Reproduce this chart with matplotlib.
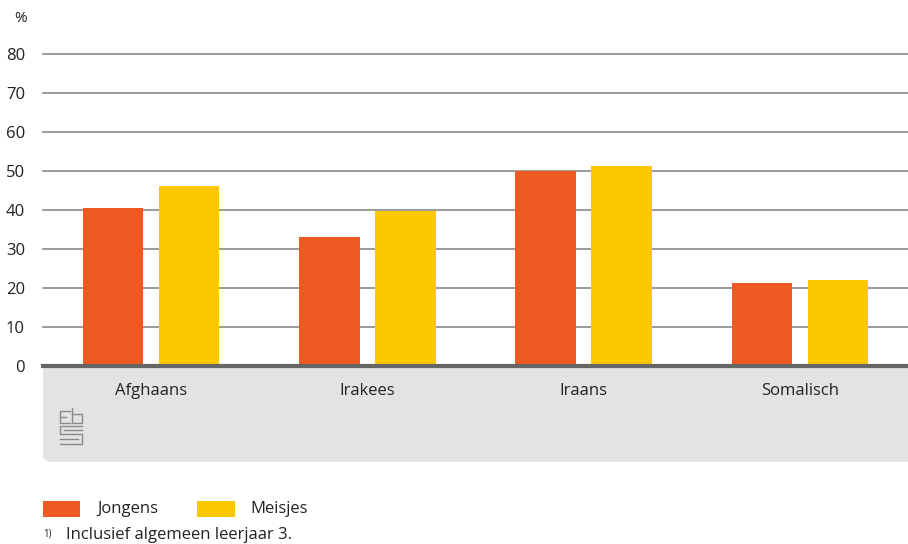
import matplotlib.pyplot as plt
import numpy as np
from matplotlib.patches import Rectangle, FancyBboxPatch

plt.rcParams['font.family'] = ['Open Sans', 'DejaVu Sans']

categories = ["Afghaans", "Irakees", "Iraans", "Somalisch"]
jongens = [40.5, 33.1, 50.0, 21.3]
meisjes = [46.2, 39.7, 51.3, 22.1]
yticks = [0, 10, 20, 30, 40, 50, 60, 70, 80]

ORANGE = "#F05A22"
YELLOW = "#FDC800"
GRID = "#808080"
TEXT = "#222222"
PANEL = "#E2E3E5"

W, H = 908, 544
fig = plt.figure(figsize=(W / 100, H / 100), dpi=100)

# axes: x 43..908 px, y (from top) 54..366 px
ax = fig.add_axes([43 / W, (H - 366) / H, (W - 43) / W, (366 - 54) / H])
x = np.arange(len(categories))
bw = 0.28
off = 0.176
ax.bar(x - off, jongens, bw, color=ORANGE, zorder=3, label="Jongens")
ax.bar(x + off, meisjes, bw, color=YELLOW, zorder=3, label="Meisjes")
ax.set_xlim(-0.5, len(categories) - 0.5)
ax.set_ylim(0, 80)
ax.set_yticks(yticks)
ax.set_yticklabels([str(v) for v in yticks], fontsize=12, color=TEXT)
ax.tick_params(axis="y", length=0, pad=13)
ax.set_xticks([])
ax.yaxis.grid(True, color=GRID, linewidth=1.1, zorder=0)
for s in ax.spines.values():
    s.set_visible(False)
for gl in ax.get_ygridlines():
    gl.set_clip_on(False)

# grey panel below the axis
def fx(px):
    return px / W

def fy(py):
    return (H - py) / H

fig.patches.append(FancyBboxPatch((fx(43), fy(462)), fx(W + 20) - fx(43), fy(366) - fy(462),
                                  boxstyle="round,pad=0,rounding_size=0.012",
                                  transform=fig.transFigure, facecolor=PANEL, edgecolor="none", zorder=0))
fig.patches.append(Rectangle((fx(43), fy(420)), fx(W) - fx(43), fy(366) - fy(420),
                             transform=fig.transFigure, facecolor=PANEL, edgecolor="none", zorder=0))
fig.lines.append(plt.Line2D([fx(43), 1], [fy(366), fy(366)], transform=fig.transFigure,
                            color="#666666", linewidth=3, zorder=5))

for i, c in enumerate(categories):
    xd = ax.transData.transform((i, 0))[0]
    fig.text(xd / W, fy(391), c, ha="center", va="center", fontsize=12, color=TEXT)

# simple cbs mark
lc = "#8a8a8a"
segs = [
    [(70, 411), (60, 411), (60, 423), (70, 423)], [(60, 417), (66, 417)],
    [(72, 408), (72, 423), (82, 423), (82, 414), (72, 414)],
    [(82, 426), (60, 426), (60, 434), (82, 434), (82, 444), (60, 444)],
    [(64, 430), (82, 430)], [(60, 439), (78, 439)],
]
for sg in segs:
    xs = [fx(p[0]) for p in sg]
    ys = [fy(p[1]) for p in sg]
    fig.lines.append(plt.Line2D(xs, ys, transform=fig.transFigure, color=lc, linewidth=1.0, zorder=6))

fig.text(fx(21), fy(19), "%", ha="center", va="center", fontsize=11, color=TEXT)

# legend
fig.patches.append(Rectangle((fx(43), fy(517)), fx(80) - fx(43), fy(501) - fy(517),
                             transform=fig.transFigure, facecolor=ORANGE, edgecolor="none"))
fig.text(fx(97), fy(509), "Jongens", ha="left", va="center", fontsize=12, color=TEXT)
fig.patches.append(Rectangle((fx(197), fy(517)), fx(235) - fx(197), fy(501) - fy(517),
                             transform=fig.transFigure, facecolor=YELLOW, edgecolor="none"))
fig.text(fx(250), fy(509), "Meisjes", ha="left", va="center", fontsize=12, color=TEXT)

fig.text(fx(43), fy(534), "1)", ha="left", va="center", fontsize=7, color=TEXT)
fig.text(fx(66), fy(535), "Inclusief algemeen leerjaar 3.", ha="left", va="center", fontsize=12, color=TEXT)

fig.savefig("out.png", dpi=100)
